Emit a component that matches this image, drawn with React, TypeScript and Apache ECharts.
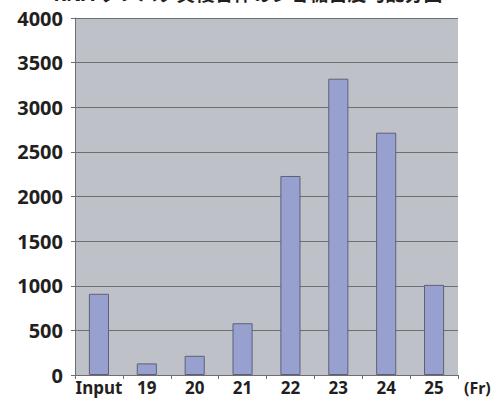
import React, { useEffect, useRef } from "react";
import * as echarts from "echarts";

const categories = ["Input", "19", "20", "21", "22", "23", "24", "25"];
const values = [910, 130, 215, 580, 2230, 3320, 2715, 1010];
const yTicks = [0, 500, 1000, 1500, 2000, 2500, 3000, 3500, 4000];
const titleText = "RNA-タンパク質複合体のショ糖密度勾配分画";
const unitLabel = "(Fr)";

export default function App() {
  const ref = useRef<HTMLDivElement>(null);
  useEffect(() => {
    if (!ref.current) return;
    const chart = echarts.init(ref.current, null, { renderer: "svg" });
    const font = "'Noto Sans', 'Noto Sans CJK JP', sans-serif";
    chart.setOption({
      animation: false,
      backgroundColor: "#ffffff",
      textStyle: { fontFamily: font },
      graphic: [
        {
          type: "text",
          left: "center",
          top: -16,
          style: {
            text: titleText,
            fontSize: 19,
            fontWeight: "bold",
            fill: "#231f20",
            fontFamily: font,
          },
        },
        {
          type: "text",
          x: 464,
          y: 380,
          style: {
            text: unitLabel,
            fontSize: 16,
            fontWeight: "bold",
            fill: "#231f20",
            fontFamily: font,
          },
        },
      ],
      grid: { left: 75, right: 38, top: 18, bottom: 24, show: true, backgroundColor: "#bec2c8", borderWidth: 0 },
      xAxis: {
        type: "category",
        data: categories,
        boundaryGap: true,
        axisLine: { lineStyle: { color: "#6d6e71", width: 1 } },
        axisTick: { show: true, alignWithLabel: false, length: 4, lineStyle: { color: "#6d6e71" } },
        axisLabel: { fontSize: 17, fontWeight: "bold", color: "#231f20", margin: 4, interval: 0 },
      },
      yAxis: {
        type: "value",
        min: 0,
        max: 4000,
        interval: 500,
        axisLine: { show: true, lineStyle: { color: "#6d6e71", width: 1 } },
        axisTick: { show: true, length: 4, lineStyle: { color: "#6d6e71" } },
        axisLabel: {
          fontSize: 20,
          fontWeight: "bold",
          color: "#231f20",
          margin: 12,
          customValues: yTicks,
          formatter: (v: number) => String(v),
        },
        splitLine: { show: true, lineStyle: { color: "#6d6e71", width: 1 } },
      },
      series: [
        {
          type: "bar",
          data: values,
          barWidth: "42%",
          itemStyle: { color: "#97a0cf", borderColor: "#5d6177", borderWidth: 1 },
        },
      ],
    });
    return () => chart.dispose();
  }, []);
  return <div ref={ref} style={{ width: 496, height: 399, position: "absolute", left: 0, top: 0 }} />;
}
